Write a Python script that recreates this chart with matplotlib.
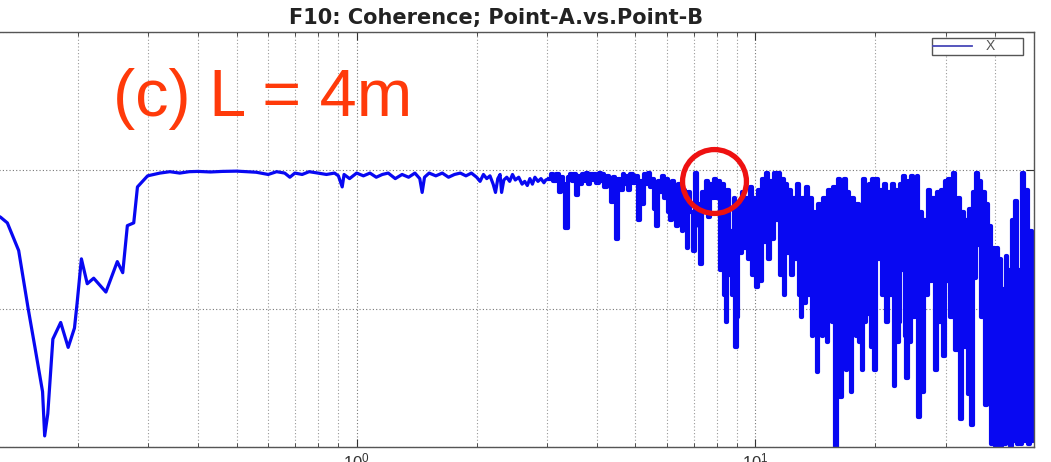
import numpy as np
import matplotlib
matplotlib.use('Agg')
import matplotlib.pyplot as plt
from matplotlib.lines import Line2D
from matplotlib.ticker import LogLocator, NullFormatter

# low frequency part (Hz, coherence)
low_freq = [0.118, 0.128, 0.133, 0.142, 0.150, 0.156, 0.163, 0.165, 0.168, 0.173,
            0.181, 0.189, 0.196, 0.199, 0.204, 0.211, 0.219, 0.235, 0.251, 0.259,
            0.266, 0.276, 0.282, 0.299, 0.321]
low_coh = [0.86, 0.83, 0.81, 0.71, 0.50, 0.36, 0.20, 0.04, 0.12, 0.39,
           0.45, 0.36, 0.43, 0.52, 0.68, 0.59, 0.61, 0.56, 0.67, 0.63,
           0.80, 0.81, 0.94, 0.98, 0.99]

# flat part
mid_freq = [0.34, 0.36, 0.38, 0.40, 0.43, 0.46, 0.50, 0.53, 0.56, 0.60,
            0.63, 0.66, 0.68, 0.70, 0.73, 0.76, 0.80, 0.84, 0.88, 0.90,
            0.92, 0.93, 0.96, 1.00, 1.04, 1.08, 1.12, 1.16, 1.20, 1.25,
            1.30, 1.35, 1.40, 1.44, 1.46, 1.48, 1.52, 1.58, 1.64, 1.70,
            1.76, 1.82, 1.88, 1.94, 2.00, 2.04, 2.08, 2.12, 2.16, 2.20,
            2.23, 2.26, 2.29, 2.31, 2.34, 2.38, 2.42, 2.46, 2.50, 2.55,
            2.60, 2.64, 2.68, 2.72, 2.76, 2.80, 2.85, 2.90, 2.95, 2.98]
mid_coh = [0.995, 0.99, 0.995, 0.996, 0.994, 0.996, 0.997, 0.995, 0.993, 0.985,
           0.995, 0.99, 0.975, 0.99, 0.985, 0.995, 0.99, 0.985, 0.99, 0.98,
           0.94, 0.985, 0.97, 0.99, 0.98, 0.99, 0.975, 0.985, 0.99, 0.97,
           0.985, 0.975, 0.99, 0.97, 0.92, 0.975, 0.99, 0.98, 0.99, 0.975,
           0.985, 0.99, 0.98, 0.99, 0.975, 0.96, 0.985, 0.97, 0.98, 0.95,
           0.92, 0.97, 0.985, 0.92, 0.965, 0.975, 0.96, 0.985, 0.965, 0.975,
           0.95, 0.96, 0.945, 0.97, 0.95, 0.975, 0.96, 0.97, 0.955, 0.965]

# noisy high frequency part
high_freq = [3.04, 3.09, 3.13, 3.19, 3.23, 3.28, 3.32, 3.36, 3.40, 3.44,
             3.48, 3.52, 3.56, 3.62, 3.66, 3.71, 3.75, 3.79, 3.84, 3.88,
             3.93, 3.97, 4.02, 4.07, 4.11, 4.16, 4.21, 4.26, 4.31, 4.36,
             4.41, 4.46, 4.51, 4.56, 4.62, 4.67, 4.72, 4.78, 4.83, 4.89,
             4.95, 5.03, 5.12, 5.18, 5.24, 5.30, 5.36, 5.42, 5.48, 5.55,
             5.62, 5.68, 5.75, 5.81, 5.88, 5.95, 6.01, 6.09, 6.16, 6.23,
             6.30, 6.37, 6.45, 6.52, 6.56, 6.64, 6.72, 6.75, 6.83, 6.91,
             7.03, 7.11, 7.19, 7.24, 7.32, 7.41, 7.50, 7.58, 7.67, 7.76,
             7.85, 7.94, 8.03, 8.13, 8.22, 8.31, 8.41, 8.46, 8.56, 8.66,
             8.71, 8.81, 8.86, 8.96, 9.01, 9.12, 9.23, 9.33, 9.44, 9.55,
             9.66, 9.77, 9.89, 10.0, 10.12, 10.23, 10.35, 10.47, 10.60, 10.72,
             10.84, 10.97, 11.09, 11.22, 11.35, 11.49, 11.62, 11.76, 11.82, 11.96,
             12.10, 12.24, 12.38, 12.53, 12.67, 12.82, 12.97, 13.04, 13.19, 13.34,
             13.50, 13.66, 13.82, 13.90, 14.06, 14.22, 14.30, 14.47, 14.63, 14.72,
             14.90, 15.07, 15.15, 15.32, 15.50, 15.59, 15.77, 15.96, 16.05, 16.23,
             16.42, 16.61, 16.80, 16.90, 17.10, 17.30, 17.40, 17.60, 17.81, 17.91,
             18.12, 18.22, 18.43, 18.54, 18.75, 18.86, 19.08, 19.19, 19.41, 19.53,
             19.76, 20.0, 20.22, 20.46, 20.70, 20.94, 21.18, 21.42, 21.67, 21.92,
             22.18, 22.31, 22.56, 22.83, 22.96, 23.23, 23.36, 23.63, 23.77, 24.04,
             24.33, 24.47, 24.75, 25.03, 25.32, 25.47, 25.76, 26.06, 26.37, 26.67,
             26.98, 27.29, 27.61, 27.93, 28.42, 28.75, 29.08, 29.42, 29.76, 30.09,
             30.25, 30.6, 31.14, 31.50, 32.05, 32.43, 32.80, 33.18, 33.57, 33.96,
             34.16, 34.56, 35.0, 35.34, 35.76, 35.97, 36.37, 36.79, 37.0, 37.43,
             37.86, 38.3, 38.52, 38.97, 39.20, 39.65, 40.16, 40.4, 40.86, 41.1,
             41.57, 41.8, 42.3, 42.54, 43.0, 43.28, 43.8, 44.03, 44.54, 45.05,
             45.6, 46.13, 46.4, 46.94, 47.48, 48.04, 48.60, 49.16, 49.7, 50.0]
high_coh = [0.97, 0.985, 0.96, 0.985, 0.92, 0.975, 0.95, 0.79, 0.975, 0.985,
            0.96, 0.985, 0.91, 0.98, 0.95, 0.985, 0.96, 0.99, 0.95, 0.985,
            0.965, 0.985, 0.955, 0.99, 0.96, 0.985, 0.94, 0.98, 0.96, 0.885,
            0.975, 0.95, 0.75, 0.97, 0.93, 0.985, 0.95, 0.98, 0.93, 0.985,
            0.955, 0.98, 0.82, 0.96, 0.88, 0.985, 0.95, 0.99, 0.94, 0.97,
            0.86, 0.80, 0.96, 0.92, 0.98, 0.90, 0.97, 0.85, 0.82, 0.96,
            0.84, 0.80, 0.95, 0.86, 0.78, 0.93, 0.80, 0.72, 0.92, 0.85,
            0.71, 0.99, 0.88, 0.80, 0.66, 0.92, 0.85, 0.96, 0.83, 0.95,
            0.90, 0.97, 0.90, 0.96, 0.64, 0.95, 0.55, 0.45, 0.93, 0.62,
            0.78, 0.55, 0.90, 0.36, 0.47, 0.88, 0.70, 0.92, 0.72, 0.90,
            0.68, 0.94, 0.62, 0.90, 0.58, 0.93, 0.60, 0.97, 0.74, 0.99,
            0.68, 0.96, 0.75, 0.99, 0.82, 0.99, 0.62, 0.97, 0.55, 0.95,
            0.70, 0.93, 0.62, 0.90, 0.68, 0.95, 0.55, 0.47, 0.90, 0.52,
            0.94, 0.55, 0.90, 0.40, 0.85, 0.52, 0.27, 0.88, 0.58, 0.40,
            0.90, 0.55, 0.38, 0.93, 0.50, 0.45, 0.94, 0.0, 0.40, 0.97,
            0.18, 0.60, 0.97, 0.28, 0.92, 0.50, 0.20, 0.90, 0.45, 0.40,
            0.88, 0.38, 0.80, 0.28, 0.97, 0.45, 0.94, 0.48, 0.95, 0.36,
            0.97, 0.28, 0.97, 0.68, 0.93, 0.55, 0.95, 0.45, 0.92, 0.55,
            0.95, 0.22, 0.93, 0.38, 0.45, 0.95, 0.64, 0.98, 0.40, 0.25,
            0.96, 0.38, 0.98, 0.47, 0.56, 0.98, 0.11, 0.85, 0.20, 0.82,
            0.55, 0.93, 0.60, 0.90, 0.28, 0.92, 0.45, 0.93, 0.33, 0.96,
            0.60, 0.97, 0.47, 0.99, 0.35, 0.90, 0.10, 0.85, 0.36, 0.82,
            0.19, 0.86, 0.08, 0.92, 0.61, 0.99, 0.73, 0.96, 0.47, 0.92,
            0.15, 0.88, 0.20, 0.80, 0.01, 0.72, 0.005, 0.72, 0.01, 0.68,
            0.005, 0.57, 0.01, 0.69, 0.02, 0.64, 0.005, 0.82, 0.02, 0.89,
            0.01, 0.64, 0.01, 0.99, 0.02, 0.93, 0.01, 0.78, 0.02, 0.70]

title = 'F10: Coherence; Point-A.vs.Point-B'
label = '(c) L = 4m'
circle_at = (7.9, 0.96)


def main():
    plt.rcParams['font.family'] = ['Liberation Sans', 'DejaVu Sans']

    blue = '#0808f2'
    fig = plt.figure(figsize=(10.51, 4.62), dpi=100)
    ax = fig.add_axes([-0.040, 0.0325, 1.0238, 0.8983])

    smooth_f = low_freq + mid_freq + high_freq[:1]
    smooth_c = low_coh + mid_coh + high_coh[:1]
    ax.plot(smooth_f, smooth_c, color=blue, lw=2.3)
    # dense noisy part drawn as steps, like the original record
    ax.plot(high_freq, high_coh, color=blue, lw=3.0, drawstyle='steps-mid')

    ax.set_xscale('log')
    ax.set_xlim(0.1, 50)
    ax.set_ylim(0, 1.5)
    ax.set_yticks([0, 0.5, 1.0, 1.5])
    ax.xaxis.set_minor_locator(LogLocator(base=10, subs=np.arange(2, 10), numticks=20))
    ax.xaxis.set_minor_formatter(NullFormatter())

    ax.grid(True, which='major', axis='both', ls=(0, (1, 2)), color='#777777', lw=0.8)
    ax.grid(True, which='minor', axis='x', ls=(0, (1, 2)), color='#999999', lw=0.8)

    ax.tick_params(which='both', direction='in', top=True, right=True,
                   labelsize=12, colors='#333333', pad=3)
    ax.tick_params(which='major', length=6)
    ax.tick_params(which='minor', length=3)
    for s in ax.spines.values():
        s.set_color('#555555')
        s.set_linewidth(1.0)

    ax.set_title(title, fontsize=15, fontweight='bold', color='#222222', pad=6,
                 family=['DejaVu Sans'])

    ax.text(0.2445, 1.195, label, fontsize=48, color='#ff3a0a', va='baseline')

    # red circle around the 8 Hz region
    ax.plot([circle_at[0]], [circle_at[1]], 'o', ms=46, mfc='none',
            mec='#ee1111', mew=3.8, zorder=5)

    h = Line2D([], [], color='#4848b8', lw=1.3)
    leg = ax.legend([h], ['X'], loc='upper left', mode='expand',
                    bbox_to_anchor=(0.9052, 0.9518, 0.0846, 0.0337),
                    borderaxespad=0, fancybox=False, framealpha=1, fontsize=10,
                    handlelength=2.8, borderpad=0.1, handletextpad=1.0)
    leg.get_frame().set_edgecolor('#555555')
    leg.get_frame().set_linewidth(1.0)
    for t in leg.get_texts():
        t.set_color('#555555')

    fig.savefig('out.png', dpi=100)


if __name__ == '__main__':
    main()
